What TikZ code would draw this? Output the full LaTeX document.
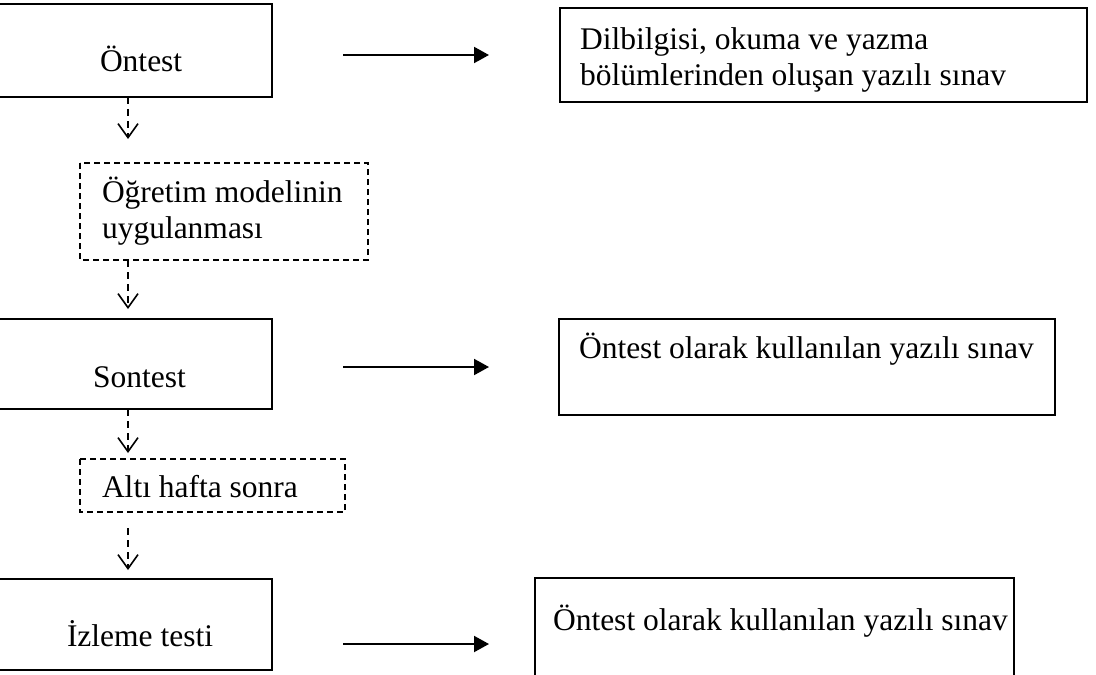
\documentclass[tikz,border=0pt]{standalone}
\usepackage{fontspec}
\setmainfont{Liberation Serif}
\usetikzlibrary{arrows.meta}
\begin{document}
\begin{tikzpicture}[x=0.5pt,y=-0.5pt,
  every node/.style={inner sep=0pt,outer sep=0pt,font=\fontsize{15.75}{18}\selectfont},
  solidbox/.style={draw,line width=1pt,rectangle},
  dashbox/.style={draw,line width=0.75pt,dash pattern=on 3pt off 2pt,rectangle},
  dasharrow/.style={line width=0.8pt,dash pattern=on 3.5pt off 2.5pt,-{Straight Barb[length=7pt,width=10pt,line width=0.8pt]}},
  solidarrow/.style={line width=1pt,-{Triangle[length=7.5pt,width=8pt]}},
  txt/.style={anchor=base west}]
\useasboundingbox (0,0) rectangle (1096,674);
% left column
\draw[solidbox] (-5,4) rectangle (272,97);
\node[txt] (t1) at (100,72) {Öntest};
\draw[dashbox] (80,163) rectangle (368,260);
\node[txt] (t2a) at (102,202) {Öğretim modelinin};
\node[txt] (t2b) at (102,238) {uygulanması};
\draw[solidbox] (-5,319) rectangle (272,409);
\node[txt] (t3) at (93,387) {Sontest};
\draw[dashbox] (80,459) rectangle (345,512);
\node[txt] (t4) at (102,497) {Altı hafta sonra};
\draw[solidbox] (-5,579) rectangle (272,670);
\node[txt] (t5) at (67,646) {İzleme testi};
% named connector points
\coordinate (a1s) at (128,97);  \coordinate (a1e) at (128,139);
\coordinate (a2s) at (128,260); \coordinate (a2e) at (128,309);
\coordinate (a3s) at (128,409); \coordinate (a3e) at (128,453);
\coordinate (a4s) at (128,528); \coordinate (a4e) at (128,570);
\draw[dasharrow] (a1s) -- (a1e);
\draw[dasharrow] (a2s) -- (a2e);
\draw[dasharrow] (a3s) -- (a3e);
\draw[dasharrow] (a4s) -- (a4e);
% right column
\draw[solidbox] (560,8) rectangle (1087,102);
\node[txt] (r1a) at (580,50) {Dilbilgisi, okuma ve yazma};
\node[txt] (r1b) at (580,86) {bölümlerinden oluşan yazılı sınav};
\draw[solidbox] (559,319) rectangle (1055,415);
\node[txt] (r2) at (579,358) {Öntest olarak kullanılan yazılı sınav};
\draw[solidbox] (535,578) rectangle (1014,700);
\node[txt] (r3) at (553,630) {Öntest olarak kullanılan yazılı sınav};
% solid arrows
\coordinate (s1s) at (343,55);  \coordinate (s1e) at (489,55);
\coordinate (s2s) at (343,367); \coordinate (s2e) at (489,367);
\coordinate (s3s) at (343,644); \coordinate (s3e) at (489,644);
\draw[solidarrow] (s1s) -- (s1e);
\draw[solidarrow] (s2s) -- (s2e);
\draw[solidarrow] (s3s) -- (s3e);
\end{tikzpicture}
\end{document}
